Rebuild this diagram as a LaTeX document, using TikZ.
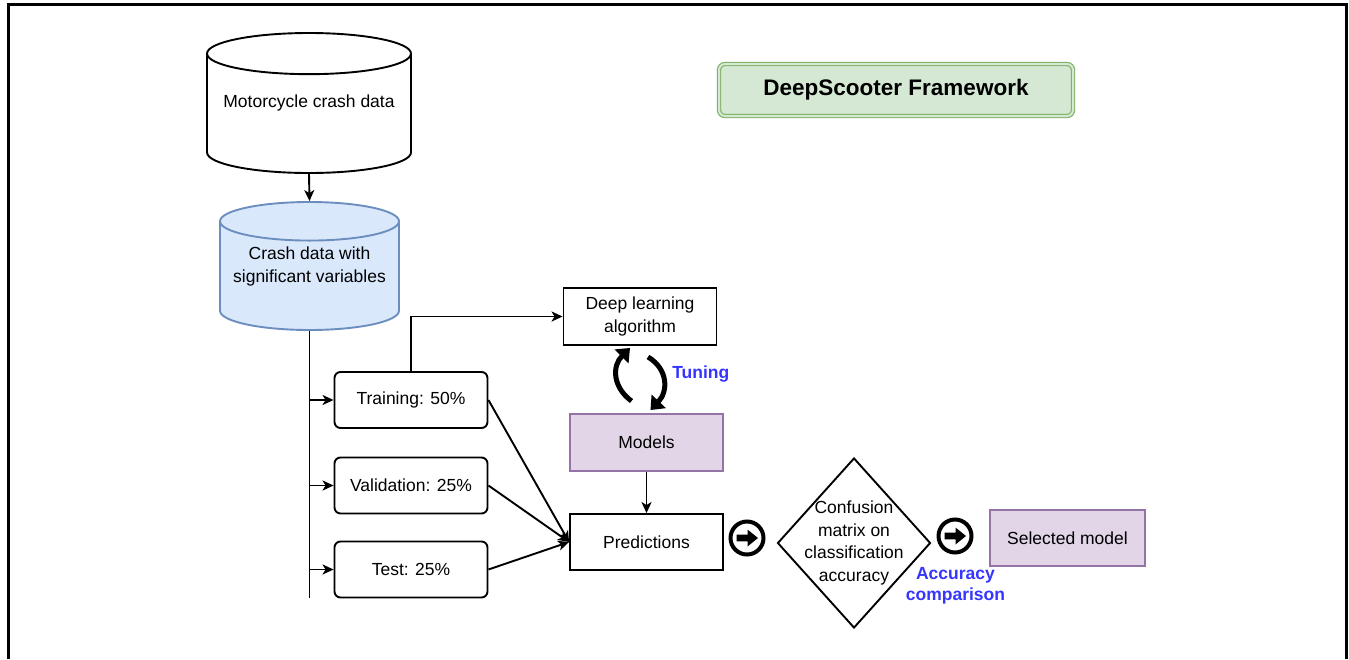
\documentclass[tikz,border=0pt]{standalone}
\usepackage{fontspec}
\setmainfont{Liberation Sans}
\usepackage{tikz}
\usetikzlibrary{arrows.meta,shapes.geometric,positioning}
\definecolor{dsgreen}{HTML}{82B366}
\definecolor{dsgreenfill}{HTML}{D5E8D4}
\definecolor{dsblueline}{HTML}{6C8EBF}
\definecolor{dsbluefill}{HTML}{DAE8FC}
\definecolor{dspurple}{HTML}{9673A6}
\definecolor{dspurplefill}{HTML}{E1D5E7}
\definecolor{dsnote}{HTML}{3535FF}

\begin{document}
\begin{tikzpicture}[x=1pt,y=-1pt,line width=1.9pt,
    font=\fontsize{17.5}{22.5}\selectfont,
    >={Stealth[length=11pt,width=10pt,inset=3pt]},
    box/.style={draw,rectangle,minimum width=153pt,minimum height=56pt,inner sep=2pt,align=center},
    split/.style={box,rounded corners=6pt},
    model/.style={box,draw=dspurple,fill=dspurplefill},
    store/.style={cylinder,shape border rotate=90,draw,align=center,anchor=shape center,inner sep=2pt,text height=12.7pt},
    go/.style={circle,draw,line width=4pt,minimum size=33pt,inner sep=0pt},
    tune/.style={line width=5pt,-{Triangle[length=12pt,width=19pt]}},
    note/.style={text=dsnote,font=\bfseries\fontsize{17.5}{21.5}\selectfont,align=center}]
  \useasboundingbox (0,0) rectangle (1349,659);

  % frame, open at the bottom
  \draw[line width=3pt] (8,659) -- (8,4) -- (1346,4) -- (1346,659);

  \node[draw=dsgreen,double=dsgreenfill,double distance=2pt,line width=1.2pt,fill=dsgreenfill,
        rounded corners=6pt,minimum width=354pt,minimum height=52pt,
        font=\bfseries\fontsize{22.5}{27}\selectfont] (head) at (896,90) {DeepScooter Framework};

  \node[store,minimum width=204pt,minimum height=140pt,aspect=0.235,text depth=29.7pt] (raw) at (309,103) {Motorcycle crash data};
  \node[store,minimum width=179pt,minimum height=128pt,aspect=0.246,text depth=4.2pt,
        draw=dsblueline,fill=dsbluefill] (sig) at (309.5,266) {Crash data with\\significant variables};

  \node[split] (train) at (411,400)   {Training: 50\%};
  \node[split] (val)   at (411,485.5) {Validation: 25\%};
  \node[split] (test)  at (411,569.5) {Test: 25\%};

  \node[box,minimum height=57pt] (deep)   at (640,316.5)   {Deep learning\\algorithm};
  \node[model,minimum height=57pt] (models) at (646.5,442.5) {Models};
  \node[box]                     (pred)   at (646.5,542)   {Predictions};

  \node[go] (go1) at (747,538) {};
  \node[diamond,draw,minimum width=153pt,minimum height=170pt,inner sep=0pt,
        label={[align=center]center:Confusion\\matrix on\\classification\\accuracy}] (conf) at (854,543) {};
  \node[go] (go2) at (955,536) {};
  \node[model,minimum width=155pt] (sel) at (1067.5,538) {Selected model};

  \node[note,anchor=west] (tuning) at (668,374) {Tuning};
  \node[note]             (acc)    at (955.5,586) {Accuracy\\comparison};

  % arrows inside the round signs
  \foreach \c in {go1,go2}
    \fill[shift={(\c)}] (-10.5,-3.3) -- (0.5,-3.3) -- (0.5,-8.5) -- (11,0) -- (0.5,8.5) -- (0.5,3.3) -- (-10.5,3.3) -- cycle;

  % data flow
  \draw[->] (raw.south) -- (sig.north);
  \coordinate (trunkend) at (309.5,598);
  \draw (sig.south) -- (trunkend);
  \foreach \n in {train,val,test}
    \draw[->] (\n.west -| trunkend) -- (\n.west);
  \draw[->] (train.north) |- (deep.west);
  \foreach \n in {train,val,test}
    \draw[->] (\n.east) -- (pred.west);
  \draw[->] (models.south) -- (pred.north);

  % tuning loop
  \draw[tune] ([xshift=-15pt,yshift=12pt]models.north) .. controls +(-19,-14) and +(-18,18) .. ([xshift=-10pt,yshift=-2pt]deep.south);
  \draw[tune] ([xshift=8pt,yshift=-11pt]deep.south) .. controls +(20,12) and +(18,-19) .. ([xshift=4pt,yshift=3pt]models.north);
\end{tikzpicture}
\end{document}
